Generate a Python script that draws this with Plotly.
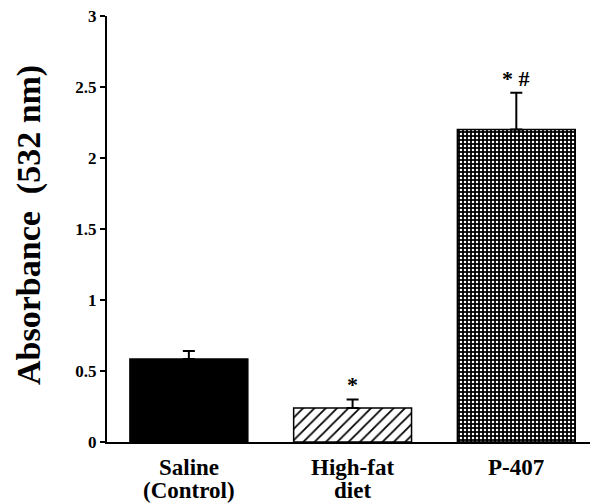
import plotly.graph_objects as go

groups = ["Saline", "High-fat", "P-407"]
group_line1 = ["Saline", "High-fat", "P-407"]
group_line2 = ["(Control)", "diet", ""]
values = [0.585, 0.24, 2.20]
errors = [0.055, 0.06, 0.26]
markers = ["", "*", "* #"]
y_ticks = [0, 0.5, 1, 1.5, 2, 2.5, 3]
y_ticklabels = ["0", "0.5", "1", "1.5", "2", "2.5", "3"]

FONT = "Liberation Serif"
xs = list(range(len(groups)))

styles = [
    dict(color="black", pattern=dict(shape="")),
    dict(color="white", pattern=dict(shape="/", fgcolor="black", bgcolor="white",
                                     size=8, solidity=0.22, fillmode="replace")),
    dict(color="black", pattern=dict(shape=".", fgcolor="white", bgcolor="black",
                                     size=4, solidity=0.3, fillmode="replace")),
]

fig = go.Figure()
for i in xs:
    fig.add_trace(go.Bar(
        x=[xs[i]], y=[values[i]], width=0.72,
        marker=dict(color=styles[i]["color"], line=dict(color="black", width=1.5),
                    pattern=styles[i]["pattern"]),
        error_y=dict(type="data", array=[errors[i]], arrayminus=[0], symmetric=False,
                     color="black", thickness=2, width=6),
        showlegend=False,
    ))

for i, m in enumerate(markers):
    if m:
        fig.add_annotation(x=xs[i], y=values[i] + errors[i], text="<b>" + m + "</b>",
                           showarrow=False, yanchor="bottom", yshift=0,
                           font=dict(family=FONT, size=22, color="black"))
    fig.add_annotation(x=xs[i], y=0, text="<b>" + group_line1[i] + "</b>", showarrow=False,
                       yanchor="middle", yshift=-25, font=dict(family=FONT, size=23, color="black"))
    if group_line2[i]:
        fig.add_annotation(x=xs[i], y=0, text="<b>" + group_line2[i] + "</b>", showarrow=False,
                           yanchor="middle", yshift=-48, font=dict(family=FONT, size=23, color="black"))

fig.add_annotation(xref="paper", yref="paper", x=-0.161, y=0.51, text="<b>Absorbance  (532 nm)</b>",
                   textangle=-90, showarrow=False, xanchor="center", yanchor="middle",
                   font=dict(family=FONT, size=34, color="black"))

fig.update_layout(
    width=590, height=504,
    margin=dict(l=107, r=0, t=16, b=62),
    paper_bgcolor="white", plot_bgcolor="white",
    barmode="overlay",
    xaxis=dict(range=[-0.5, 2.45], showticklabels=False, ticks="", showgrid=False,
               zeroline=False, showline=True, linecolor="black", linewidth=2),
    yaxis=dict(range=[0, 3], tickvals=y_ticks, ticktext=["<b>" + t + "</b>" for t in y_ticklabels],
               ticks="outside", ticklen=5, tickwidth=2, tickcolor="black", showgrid=False,
               zeroline=False, showline=True, linecolor="black", linewidth=2,
               tickfont=dict(family=FONT, size=17, color="black")),
)

fig.write_html("out.html")
